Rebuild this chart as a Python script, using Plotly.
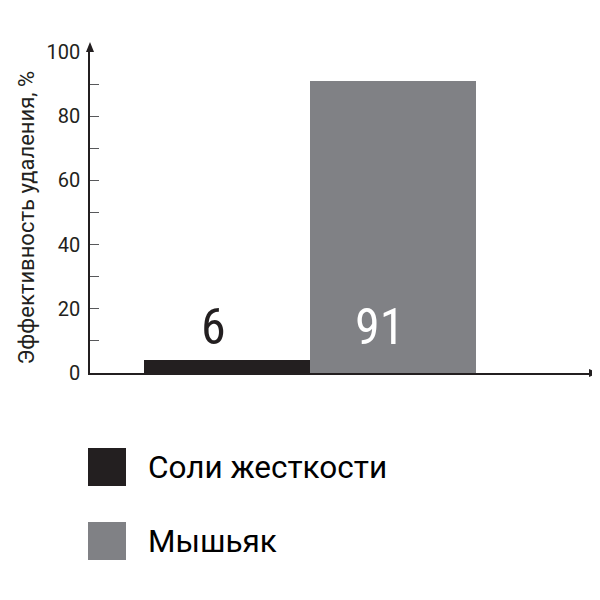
import plotly.graph_objects as go

categories = ["Соли жесткости", "Мышьяк"]
bar_heights = [4.2, 91]          # heights as drawn
value_labels = ["6", "91"]       # labels as printed
colors = ["#231f20", "#808185"]
label_colors = ["#231f20", "#ffffff"]
y_ticks = [0, 10, 20, 30, 40, 50, 60, 70, 80, 90, 100]
y_ticktext = ["0", "", "20", "", "40", "", "60", "", "80", "", "100"]
y_title = "Эффективность удаления, %"

OFF = 8  # page body margin
W, H = 600, 600
SX0, SX1, SY0, SY1 = 90, 590, 52, 373
L, R, T, B = SX0 - OFF, W - (SX1 - OFF), SY0 - OFF, H - (SY1 - OFF)
pw, ph = SX1 - SX0, SY1 - SY0

def px_x(px):
    return (px - SX0) / pw

def px_y(py):
    return (SY1 - py) / ph

fig = go.Figure()
fig.add_trace(go.Bar(
    x=[0, 1], y=bar_heights, width=1.0,
    marker=dict(color=colors, line=dict(width=0)),
    showlegend=False, hoverinfo="skip",
))

ann = []
for i, (lab, c) in enumerate(zip(value_labels, label_colors)):
    ann.append(dict(x=i, y=14.3, xref="x", yref="y", text=lab, showarrow=False,
                    xshift=-13,
                    font=dict(family="Liberation Sans Narrow, Roboto Condensed, Roboto", size=50, color=c)))

ann.append(dict(x=px_x(11), y=px_y(218), xref="paper", yref="paper", text=y_title,
                textangle=-90, showarrow=False,
                font=dict(family="Roboto", size=22, color="#231f20")))

shapes = []
shapes.append(dict(type="path", xref="paper", yref="paper",
                   path=f"M {px_x(86)} {px_y(52)} L {px_x(94)} {px_y(52)} L {px_x(90)} {px_y(42)} Z",
                   fillcolor="#231f20", line=dict(width=0)))
shapes.append(dict(type="path", xref="paper", yref="paper",
                   path=f"M {px_x(589)} {px_y(369)} L {px_x(589)} {px_y(377)} L {px_x(599)} {px_y(373)} Z",
                   fillcolor="#231f20", line=dict(width=0)))

legend_rows = [(448, 486), (522, 560)]
for (y0, y1), c, name in zip(legend_rows, colors, categories):
    shapes.append(dict(type="rect", xref="paper", yref="paper",
                       x0=px_x(88), x1=px_x(126), y0=px_y(y1), y1=px_y(y0),
                       fillcolor=c, line=dict(width=0)))
    ann.append(dict(x=px_x(146), y=px_y((y0 + y1) / 2), xref="paper", yref="paper",
                    text=name, showarrow=False, xanchor="left", yanchor="middle",
                    font=dict(family="Roboto", size=31.5, color="#000000")))

fig.update_layout(
    width=W, height=H,
    margin=dict(l=L, r=R, t=T, b=B),
    paper_bgcolor="white", plot_bgcolor="white",
    xaxis=dict(range=[-0.825, 2.187], showgrid=False, zeroline=False,
               showticklabels=False, ticks="", showline=True,
               linecolor="#231f20", linewidth=1.5, fixedrange=True),
    yaxis=dict(range=[0, 100], showgrid=False, zeroline=False,
               tickvals=y_ticks, ticktext=y_ticktext, ticks="inside", ticklen=9,
               tickcolor="#58595b", tickwidth=1,
               showline=True, linecolor="#231f20", linewidth=1.5,
               tickfont=dict(family="Roboto", size=20, color="#231f20"),
               ticklabelstandoff=4),
    annotations=ann, shapes=shapes,
    bargap=0,
)

fig.write_html("out.html")
